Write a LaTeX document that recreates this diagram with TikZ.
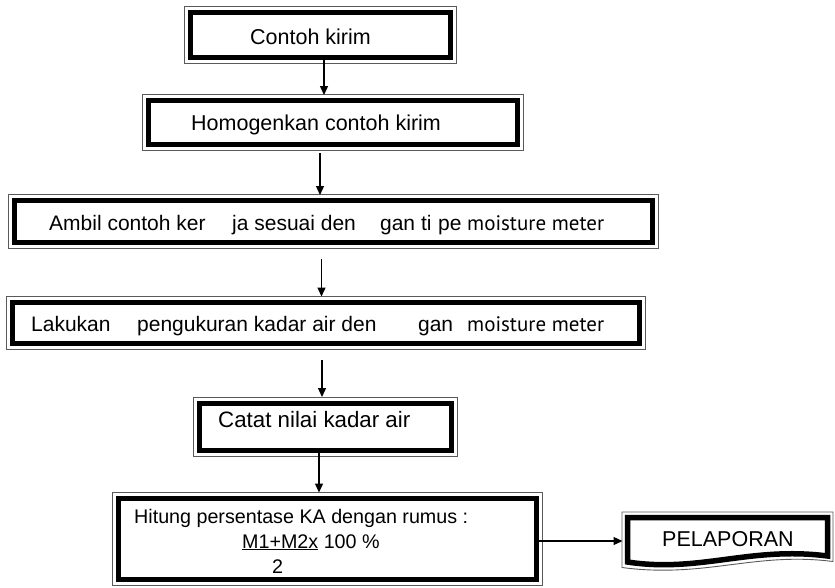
\documentclass[tikz,border=0pt]{standalone}
\usepackage{fontspec}
\setmainfont{Liberation Sans}
\newfontfamily\ptsans{PT Sans}
\usetikzlibrary{arrows.meta}
\newcommand\fsz[1]{\fontsize{#1}{#1}\selectfont}
\begin{document}
\begin{tikzpicture}[x=1pt,y=-1pt,
  box/.style={draw=black, line width=5.5pt, rectangle, inner sep=0pt, outer sep=0pt},
  outerline/.style={draw=black!65, line width=0.9pt},
  lbl/.style={anchor=base west, inner sep=0pt, font=\fsz{21.5pt}},
  arr/.style={line width=1.3pt, -{Triangle[length=9pt,width=8pt]}}]
\useasboundingbox (0,0) rectangle (835,587);

% boxes (thick inner border)
\node[box, minimum width=260pt, minimum height=45pt] (b1) at (320.5,35) {};
\node[box, minimum width=369pt, minimum height=44pt] (b2) at (333,122.5) {};
\node[box, minimum width=638pt, minimum height=42pt] (b3) at (333.5,221.5) {};
\node[box, minimum width=627pt, minimum height=41pt] (b4) at (326,323) {};
\node[box, minimum width=252pt, minimum height=47pt] (b5) at (325.5,427) {};
\node[box, minimum width=418pt, minimum height=81pt] (b6) at (327.5,539) {};

% thin outer border
\foreach \n in {b1,b2,b3,b4,b5,b6}
  \draw[outerline] ([shift={(-5.8pt,5.8pt)}]\n.north west) rectangle ([shift={(5.8pt,-5.8pt)}]\n.south east);

% document shape
\node[inner sep=0pt, outer sep=0pt, minimum width=200pt, minimum height=47pt] (p) at (727.5,541) {};
\draw[line width=5.5pt, line join=miter] (627.5,517.5) -- (827.5,517.5) -- (827.5,556)
  .. controls (750,546) and (700,573) .. (627.5,562) -- cycle;
\draw[outerline] (622,512) -- (833,512) -- (833,561.5)
  .. controls (755,551.5) and (705,578.5) .. (622,567.5) -- cycle;

% texts
\node[lbl] (t1) at (250,44) {Contoh kirim};
\node[lbl] (t2) at (191,130.7) {Homogenkan contoh kirim};
\node[lbl, font=\fsz{21pt}] (t3) at (49,230)
  {\makebox[183pt][l]{Ambil contoh ker}\makebox[148pt][l]{ja sesuai den}\makebox[58pt][l]{gan ti}\makebox[29pt][l]{pe}{\ptsans moisture meter}};
\node[lbl, font=\fsz{21pt}] (t4) at (31,331.5)
  {\makebox[106pt][l]{Lakukan}\makebox[281pt][l]{pengukuran kadar air den}\makebox[49pt][l]{gan}{\ptsans moisture meter}};
\node[lbl, font=\fsz{22.3pt}] (t5) at (218,427) {Catat nilai kadar air};
\node[lbl, align=left, font=\fontsize{19.7pt}{25pt}\selectfont] (t6) at (134,573)
  {Hitung persentase KA dengan rumus :\\\hspace*{108pt}\underline{M1+M2x} 100 \%\\\hspace*{138pt}2};
\node[lbl] (t7) at (662,546.5) {PELAPORAN};

% connectors
\draw[arr] ([xshift=3.5pt]b1.south) -- ([xshift=3.5pt,yshift=5.5pt]b1.south |- b2.north);
\draw[arr] ([xshift=-13pt,yshift=-8.5pt]b2.south) -- ([xshift=-13pt,yshift=5.5pt]b2.south |- b3.north);
\draw[arr] ([xshift=-12pt,yshift=-16.5pt]b3.south) -- ([xshift=-12pt,yshift=6pt]b3.south |- b4.north);
\draw[arr] ([xshift=-4pt,yshift=-16.5pt]b4.south) -- ([xshift=-4pt,yshift=6.5pt]b4.south |- b5.north);
\draw[arr] ([xshift=-6.5pt]b5.south) -- ([xshift=-6.5pt,yshift=6pt]b5.south |- b6.north);
\draw[arr] (b6.east |- p.west) -- ([xshift=-5pt]p.west);
\end{tikzpicture}
\end{document}
